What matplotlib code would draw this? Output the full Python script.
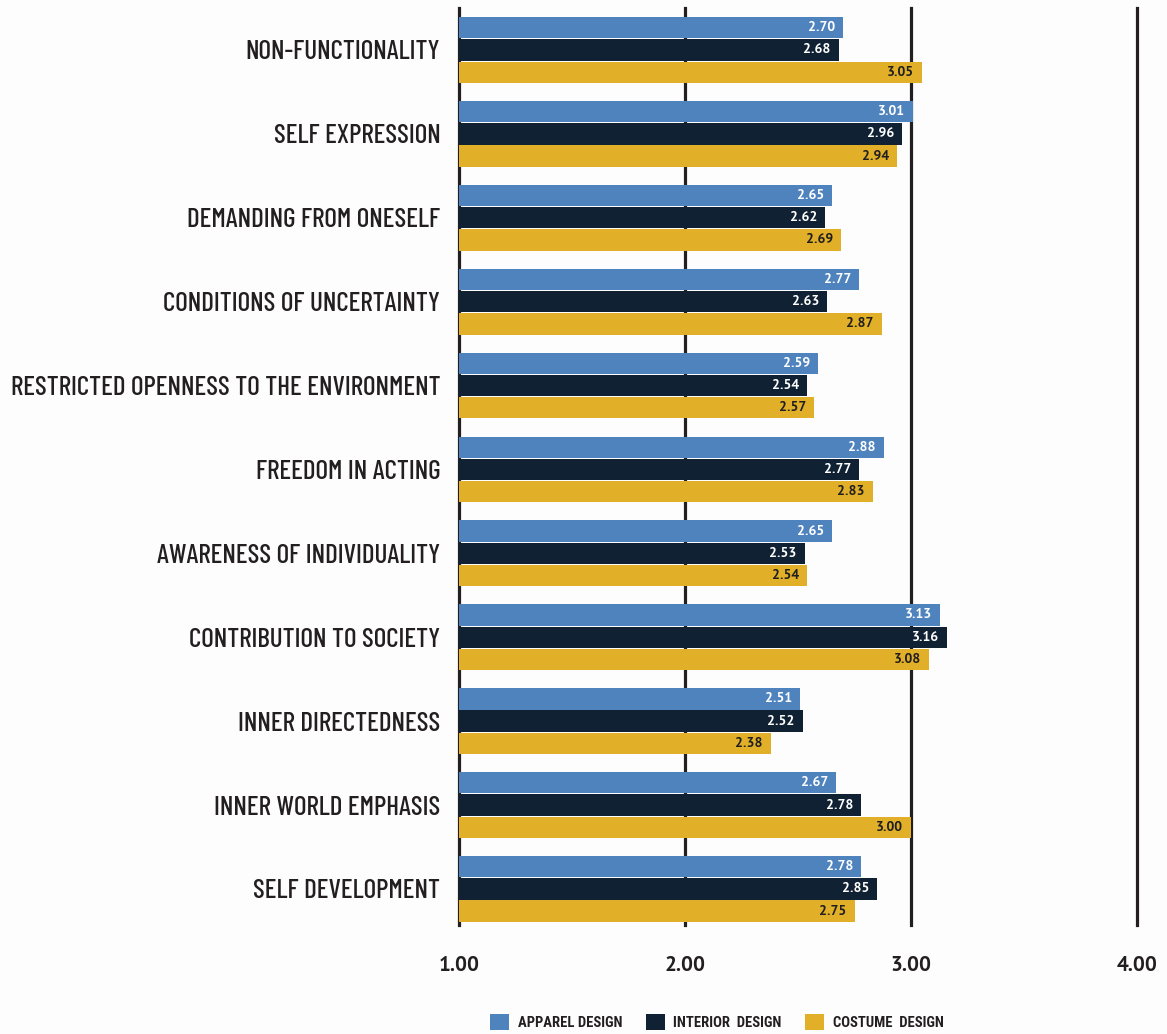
import os
import numpy as np
import matplotlib
matplotlib.use("Agg")
import matplotlib.pyplot as plt
from matplotlib import font_manager as fm
from matplotlib.patches import Patch

categories = [
    "NON-FUNCTIONALITY",
    "SELF EXPRESSION",
    "DEMANDING FROM ONESELF",
    "CONDITIONS OF UNCERTAINTY",
    "RESTRICTED OPENNESS TO THE ENVIRONMENT",
    "FREEDOM IN ACTING",
    "AWARENESS OF INDIVIDUALITY",
    "CONTRIBUTION TO SOCIETY",
    "INNER DIRECTEDNESS",
    "INNER WORLD EMPHASIS",
    "SELF DEVELOPMENT",
]
apparel = [2.70, 3.01, 2.65, 2.77, 2.59, 2.88, 2.65, 3.13, 2.51, 2.67, 2.78]
interior = [2.68, 2.96, 2.62, 2.63, 2.54, 2.77, 2.53, 3.16, 2.52, 2.78, 2.85]
costume = [3.05, 2.94, 2.69, 2.87, 2.57, 2.83, 2.54, 3.08, 2.38, 3.00, 2.75]
series_names = ["APPAREL DESIGN", "INTERIOR  DESIGN", "COSTUME  DESIGN"]
xticks = [1.0, 2.0, 3.0, 4.0]
xtick_labels = ["1.00", "2.00", "3.00", "4.00"]

installed = {f.name for f in fm.fontManager.ttflist}


def pick(cands, default="DejaVu Sans"):
    for c in cands:
        if c in installed:
            return c
    return default


cond_family = pick(["Barlow Condensed", "Fira Sans Extra Condensed", "Roboto Condensed",
                    "PT Sans Narrow", "Fira Sans Condensed", "Archivo Narrow",
                    "Asap Condensed", "Encode Sans Condensed", "Liberation Sans Narrow"])
legend_family = pick(["Roboto Condensed", "PT Sans Narrow", "Fira Sans Condensed",
                      "Barlow Semi Condensed", "Liberation Sans Narrow"])
num_family = pick(["PT Sans", "Fira Sans", "Open Sans", "Lato"])

colors = ["#4F83BE", "#102133", "#E1AF28"]
text_colors = ["white", "white", "#1f1f1f"]
series = [apparel, interior, costume]

W, H = 1167, 1034
fig = plt.figure(figsize=(W / 100, H / 100), dpi=100)
fig.patch.set_facecolor("#fdfdfd")
ax = fig.add_axes([459 / W, 1 - 925 / H, 678 / W, 917 / H])
ax.set_facecolor("#fdfdfd")

y = np.arange(len(categories))
h = 0.265
offsets = [-h, 0.0, h]
for vals, off, c, tc in zip(series, offsets, colors, text_colors):
    vals = np.array(vals)
    ax.barh(y + off, vals - 1.0, left=1.0, height=h * 0.96, color=c, zorder=2)
    for yy, v in zip(y + off, vals):
        ax.text(v - 0.035, yy, f"{v:.2f}", ha="right", va="center", color=tc,
                fontsize=10, fontweight="bold", family=num_family, zorder=3)

for xv in xticks:
    ax.axvline(xv, color="#231f20", lw=2.3, zorder=1, clip_on=False)

ax.set_xlim(1.0, 4.0)
ax.set_ylim(len(categories) - 1 + 0.43, -0.5)
ax.set_xticks(xticks)
ax.set_xticklabels(xtick_labels, fontsize=15, fontweight="bold", family=num_family, color="#231f20")
ax.set_yticks(y)
ax.set_yticklabels(categories, color="#231f20", family=cond_family, fontweight="medium")
ax.tick_params(axis="x", length=0, pad=22)
ax.tick_params(axis="y", length=0, pad=13.5)
for s in ax.spines.values():
    s.set_visible(False)

# fit category label font size so the longest label spans ~431 px
for t in ax.get_yticklabels():
    t.set_fontsize(20)
fig.canvas.draw()
r = fig.canvas.get_renderer()
maxw = max(t.get_window_extent(r).width for t in ax.get_yticklabels())
size = min(20 * 431 / maxw, 24)
for t in ax.get_yticklabels():
    t.set_fontsize(size)

handles = [Patch(facecolor=c, edgecolor="none") for c in colors]
leg = fig.legend(handles, series_names, loc="center", bbox_to_anchor=(717 / W, 1 - 1022 / H),
                 ncol=3, frameon=False, prop={"family": legend_family, "weight": "bold", "size": 10.5},
                 handlelength=1.3, handleheight=1.3, handletextpad=0.6, columnspacing=1.6)
for t in leg.get_texts():
    t.set_color("#231f20")

fig.savefig("out.png", dpi=100, facecolor=fig.get_facecolor())
